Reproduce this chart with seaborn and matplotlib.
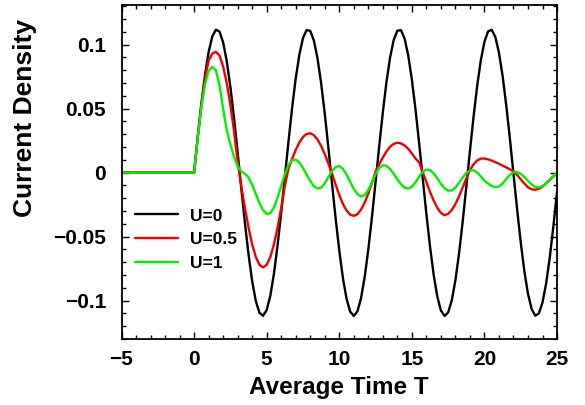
import numpy as np
import pandas as pd
import seaborn as sns
import matplotlib
matplotlib.use("Agg")
import matplotlib.pyplot as plt
from matplotlib.ticker import MultipleLocator

# sampling of average time T: one point at -5, then 0..25 every 0.25
T = np.concatenate([[-5.0], np.arange(0, 25.01, 0.25)])

# current density (first entry is T=-5)
j_u0 = [0.0,
        0.0, 0.0277, 0.0537, 0.0763,
        0.0942, 0.1063, 0.1117, 0.1102,
        0.1018, 0.0871, 0.0670, 0.0428,
        0.0158, -0.0121, -0.0393, -0.0640,
        -0.0848, -0.1002, -0.1095, -0.1119,
        -0.1074, -0.0962, -0.0790, -0.0569,
        -0.0313, -0.0037, 0.0241, 0.0504,
        0.0736, 0.0922, 0.1051, 0.1114,
        0.1108, 0.1033, 0.0894, 0.0700,
        0.0462, 0.0195, -0.0084, -0.0358,
        -0.0609, -0.0823, -0.0985, -0.1086,
        -0.1120, -0.1084, -0.0981, -0.0816,
        -0.0601, -0.0348, -0.0074, 0.0205,
        0.0471, 0.0707, 0.0900, 0.1037,
        0.1109, 0.1113, 0.1047, 0.0916,
        0.0728, 0.0495, 0.0231, -0.0047,
        -0.0322, -0.0577, -0.0797, -0.0967,
        -0.1077, -0.1120, -0.1093, -0.0998,
        -0.0841, -0.0632, -0.0384, -0.0111,
        0.0168, 0.0437, 0.0678, 0.0878,
        0.1022, 0.1104, 0.1116, 0.1060,
        0.0937, 0.0756, 0.0528, 0.0268,
        -0.0010, -0.0287, -0.0546, -0.0771,
        -0.0948, -0.1066, -0.1118, -0.1100,
        -0.1014, -0.0865, -0.0662, -0.0418,
        -0.0148]

j_u05 = [0.0,
         0.0, 0.0275, 0.0525, 0.0735,
         0.0875, 0.0930, 0.0944, 0.0915,
         0.0830, 0.0700, 0.0530, 0.0325,
         0.0085, -0.0105, -0.0276, -0.0430,
         -0.0560, -0.0659, -0.0720, -0.0741,
         -0.0720, -0.0659, -0.0560, -0.0430,
         -0.0276, -0.0105, 0.0031, 0.0108,
         0.0177, 0.0235, 0.0278, 0.0302,
         0.0307, 0.0293, 0.0259, 0.0209,
         0.0145, 0.0071, -0.0006, -0.0094,
         -0.0175, -0.0244, -0.0296, -0.0328,
         -0.0338, -0.0325, -0.0289, -0.0234,
         -0.0163, -0.0081, 0.0007, 0.0064,
         0.0118, 0.0165, 0.0202, 0.0225,
         0.0234, 0.0228, 0.0212, 0.0186,
         0.0150, 0.0110, 0.0080, 0.0005,
         -0.0075, -0.0150, -0.0218, -0.0274,
         -0.0315, -0.0333, -0.0322, -0.0292,
         -0.0245, -0.0185, -0.0117, -0.0045,
         0.0020, 0.0065, 0.0095, 0.0110,
         0.0110, 0.0104, 0.0094, 0.0082,
         0.0069, 0.0055, 0.0041, 0.0026,
         0.0011, -0.0018, -0.0052, -0.0085,
         -0.0115, -0.0130, -0.0134, -0.0126,
         -0.0108, -0.0084, -0.0057, -0.0030,
         -0.0008]

j_u1 = [0.0,
        0.0, 0.0270, 0.0510, 0.0690,
        0.0795, 0.0827, 0.0800, 0.0680,
        0.0500, 0.0330, 0.0220, 0.0125,
        0.0050, 0.0008, -0.0008, -0.0038,
        -0.0095, -0.0166, -0.0238, -0.0294,
        -0.0323, -0.0317, -0.0272, -0.0196,
        -0.0104, -0.0013, 0.0059, 0.0099,
        0.0102, 0.0079, 0.0037, -0.0015,
        -0.0066, -0.0105, -0.0124, -0.0117,
        -0.0085, -0.0037, 0.0012, 0.0044,
        0.0051, 0.0029, -0.0015, -0.0071,
        -0.0127, -0.0168, -0.0187, -0.0175,
        -0.0135, -0.0076, -0.0013, 0.0036,
        0.0058, 0.0053, 0.0028, -0.0009,
        -0.0052, -0.0090, -0.0117, -0.0125,
        -0.0110, -0.0076, -0.0032, 0.0006,
        0.0025, 0.0020, -0.0005, -0.0044,
        -0.0087, -0.0122, -0.0141, -0.0139,
        -0.0117, -0.0080, -0.0038, -0.0003,
        0.0017, 0.0018, 0.0001, -0.0029,
        -0.0063, -0.0085, -0.0105, -0.0113,
        -0.0108, -0.0086, -0.0050, -0.0018,
        0.0002, 0.0004, -0.0010, -0.0034,
        -0.0065, -0.0093, -0.0112, -0.0116,
        -0.0105, -0.0083, -0.0055, -0.0026,
        -0.0002]

labels = ["U=0", "U=0.5", "U=1"]
colors = ["black", "#f00000", "#00f000"]

df = pd.concat([
    pd.DataFrame({"T": T, "J": j_u0, "U": labels[0]}),
    pd.DataFrame({"T": T, "J": j_u05, "U": labels[1]}),
    pd.DataFrame({"T": T, "J": j_u1, "U": labels[2]}),
])

sns.set_style("ticks")
plt.rcParams["font.family"] = ["Liberation Sans", "DejaVu Sans"]
plt.rcParams["font.weight"] = "bold"
plt.rcParams["axes.labelweight"] = "bold"
for key in ["text.color", "axes.labelcolor", "xtick.color", "ytick.color", "axes.edgecolor"]:
    plt.rcParams[key] = "black"

fig = plt.figure(figsize=(5.85, 4.05), dpi=100)
ax = fig.add_axes([0.2077, 0.163, 0.7445, 0.8247])

sns.lineplot(data=df, x="T", y="J", hue="U", hue_order=labels, palette=colors,
             linewidth=1.7, errorbar=None, sort=False, ax=ax)

ax.set_xlim(-5, 25)
ax.set_ylim(-0.13, 0.131)
ax.set_xticks(range(-5, 26, 5))
ax.xaxis.set_minor_locator(MultipleLocator(1))
ax.set_yticks([-0.1, -0.05, 0, 0.05, 0.1])
ax.set_yticklabels(["\u22120.1", "\u22120.05", "0", "0.05", "0.1"])
ax.yaxis.set_minor_locator(MultipleLocator(0.01))
ax.tick_params(which="both", direction="in", top=True, right=True,
               labelsize=15, width=1.0)
ax.tick_params(axis="y", which="major", length=5, pad=11)
ax.tick_params(axis="x", which="major", length=5, pad=8)
ax.tick_params(which="minor", length=3)
for sp in ax.spines.values():
    sp.set_linewidth(1.3)

ax.set_xlabel("Average Time T", fontsize=17.5, labelpad=5)
ax.set_ylabel("Current Density", fontsize=19)
ax.yaxis.set_label_coords(-0.194, 0.662)

ax.legend(loc="upper left", bbox_to_anchor=(0.031, 0.391), frameon=False,
          borderpad=0, borderaxespad=0, handlelength=2.5, handletextpad=0.65,
          labelspacing=0.5, fontsize=12.5)

fig.savefig("out.png", dpi=100)
